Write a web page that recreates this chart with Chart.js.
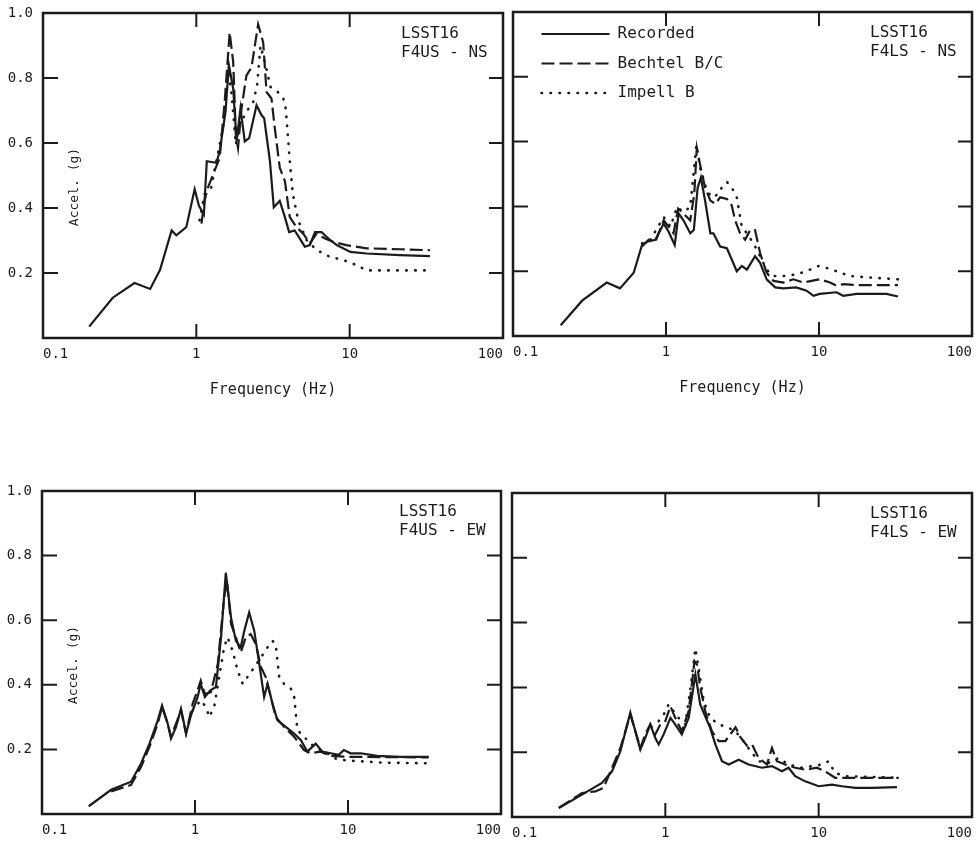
<!DOCTYPE html>
<html>
<head>
<meta charset="utf-8">
<script src="https://cdn.jsdelivr.net/npm/chart.js@4.4.1/dist/chart.umd.min.js"></script>
<style>
  html, body { margin: 0; padding: 0; background: #fff; overflow: hidden; }
  body { width: 977px; height: 842px; position: relative; }
  canvas { position: absolute; }
</style>
</head>
<body>
<canvas id="usNs" width="523" height="410" style="left:0px;top:0px"></canvas>
<canvas id="lsNs" width="522" height="409" style="left:470px;top:-1px"></canvas>
<canvas id="usEw" width="522" height="408" style="left:-1px;top:478px"></canvas>
<canvas id="lsEw" width="523" height="409" style="left:469px;top:480px"></canvas>
<script>
const freqTicks = [0.1, 1, 10, 100];
const freqMarks = [1, 10];
const accelTicks = [0.2, 0.4, 0.6, 0.8, 1.0];
const seriesNames = ['Recorded', 'Bechtel B/C', 'Impell B'];

// [frequency Hz, accel g]
const usNsRecorded = [[0.2,0.035],[0.285,0.124],[0.395,0.169],[0.5,0.151],[0.58,0.21],[0.69,0.331],[0.74,0.316],[0.86,0.341],[0.975,0.458],[1.04,0.407],[1.12,0.38],[1.17,0.544],[1.35,0.539],[1.42,0.574],[1.55,0.696],[1.63,0.84],[1.74,0.767],[1.83,0.605],[1.94,0.706],[2.07,0.605],[2.21,0.615],[2.47,0.716],[2.66,0.686],[2.77,0.676],[3.02,0.544],[3.2,0.402],[3.5,0.422],[3.78,0.372],[4.03,0.326],[4.38,0.331],[4.73,0.306],[5.1,0.281],[5.5,0.286],[5.94,0.326],[6.55,0.326],[7.26,0.306],[8.24,0.286],[10.1,0.265],[12.9,0.26],[21.3,0.255],[33.4,0.252]];
const usNsBechtel = [[1.08,0.352],[1.13,0.422],[1.19,0.463],[1.42,0.554],[1.53,0.726],[1.65,0.94],[1.74,0.848],[1.81,0.625],[1.87,0.585],[1.97,0.706],[2.12,0.807],[2.29,0.833],[2.53,0.965],[2.73,0.909],[2.87,0.757],[3.09,0.737],[3.25,0.645],[3.5,0.524],[3.78,0.483],[4.07,0.372],[4.5,0.341],[4.98,0.321],[5.5,0.291],[6.08,0.321],[6.9,0.306],[7.8,0.296],[9.5,0.286],[12.9,0.276],[21.3,0.273],[33.4,0.27]];
const usNsImpell = [[1.05,0.362],[1.13,0.443],[1.25,0.463],[1.35,0.544],[1.49,0.645],[1.61,0.828],[1.7,0.747],[1.81,0.595],[1.92,0.655],[2.12,0.696],[2.35,0.726],[2.49,0.777],[2.62,0.899],[2.8,0.848],[3.05,0.772],[3.33,0.762],[3.69,0.737],[3.83,0.706],[4.07,0.544],[4.26,0.443],[4.62,0.362],[5.24,0.301],[6.08,0.271],[7.4,0.25],[9.1,0.24],[11.0,0.225],[12.9,0.208],[21.3,0.208],[33.4,0.208]];

const lsNsRecorded = [[0.205,0.033],[0.283,0.109],[0.41,0.165],[0.5,0.147],[0.615,0.195],[0.697,0.281],[0.752,0.291],[0.852,0.297],[0.966,0.347],[1.04,0.322],[1.14,0.281],[1.21,0.378],[1.3,0.357],[1.44,0.317],[1.52,0.327],[1.61,0.458],[1.69,0.489],[1.8,0.418],[1.95,0.317],[2.04,0.317],[2.26,0.276],[2.5,0.271],[2.69,0.236],[2.9,0.2],[3.13,0.216],[3.38,0.205],[3.82,0.246],[4.12,0.226],[4.55,0.175],[5.17,0.15],[5.85,0.147],[7.1,0.15],[8.3,0.14],[9.2,0.124],[10.1,0.13],[13.0,0.135],[14.4,0.124],[17.6,0.13],[27.6,0.13],[32.8,0.122]];
const lsNsBechtel = [[0.697,0.276],[0.77,0.297],[0.852,0.291],[0.966,0.357],[1.04,0.337],[1.12,0.317],[1.2,0.393],[1.3,0.378],[1.44,0.357],[1.53,0.438],[1.59,0.58],[1.67,0.529],[1.8,0.458],[1.95,0.418],[2.1,0.408],[2.26,0.428],[2.5,0.423],[2.69,0.403],[2.83,0.357],[3.05,0.317],[3.29,0.297],[3.55,0.327],[3.82,0.327],[4.12,0.256],[4.55,0.195],[5.04,0.17],[5.85,0.165],[6.8,0.175],[7.9,0.165],[10.1,0.175],[11.8,0.165],[13.0,0.155],[14.4,0.16],[17.6,0.157],[32.8,0.157]];
const lsNsImpell = [[0.697,0.286],[0.79,0.297],[0.966,0.367],[1.07,0.337],[1.18,0.398],[1.3,0.383],[1.44,0.398],[1.58,0.59],[1.67,0.519],[1.85,0.448],[2.0,0.428],[2.2,0.438],[2.38,0.469],[2.52,0.474],[2.69,0.458],[2.9,0.428],[3.13,0.337],[3.38,0.317],[3.73,0.286],[4.12,0.246],[4.55,0.205],[5.04,0.185],[5.85,0.185],[7.1,0.19],[8.3,0.2],[9.9,0.216],[11.2,0.21],[13.0,0.2],[15.9,0.185],[22.6,0.18],[32.8,0.175]];

const usEwRecorded = [[0.202,0.024],[0.283,0.075],[0.382,0.1],[0.445,0.157],[0.504,0.218],[0.571,0.29],[0.609,0.336],[0.663,0.28],[0.697,0.234],[0.752,0.27],[0.81,0.326],[0.874,0.249],[0.942,0.306],[1.04,0.362],[1.09,0.403],[1.16,0.362],[1.26,0.383],[1.37,0.393],[1.48,0.547],[1.59,0.747],[1.72,0.608],[1.85,0.536],[1.99,0.516],[2.1,0.567],[2.26,0.624],[2.44,0.567],[2.63,0.465],[2.83,0.362],[2.98,0.403],[3.21,0.342],[3.46,0.29],[3.92,0.27],[4.45,0.249],[4.91,0.229],[5.42,0.193],[6.15,0.218],[6.8,0.193],[7.7,0.188],[8.7,0.183],[9.4,0.198],[10.4,0.188],[12.1,0.188],[15.5,0.18],[22.0,0.177],[33.7,0.177]];
const usEwBechtel = [[0.283,0.07],[0.382,0.09],[0.445,0.147],[0.504,0.208],[0.571,0.28],[0.609,0.331],[0.663,0.28],[0.697,0.239],[0.81,0.321],[0.874,0.249],[0.966,0.342],[1.04,0.383],[1.09,0.413],[1.16,0.372],[1.27,0.377],[1.41,0.465],[1.55,0.67],[1.62,0.72],[1.72,0.588],[1.85,0.547],[1.99,0.5],[2.15,0.547],[2.31,0.557],[2.5,0.526],[2.7,0.454],[2.9,0.424],[3.13,0.362],[3.37,0.3],[3.82,0.27],[4.45,0.239],[5.16,0.198],[5.7,0.188],[6.6,0.193],[7.7,0.18],[10.4,0.177],[33.7,0.175]];
const usEwImpell = [[0.966,0.321],[1.09,0.352],[1.18,0.331],[1.24,0.3],[1.34,0.336],[1.44,0.424],[1.55,0.516],[1.63,0.547],[1.76,0.506],[1.9,0.444],[2.05,0.403],[2.2,0.424],[2.44,0.454],[2.7,0.485],[2.98,0.516],[3.21,0.536],[3.37,0.526],[3.55,0.424],[3.82,0.403],[4.23,0.388],[4.45,0.362],[4.67,0.26],[5.16,0.239],[6.0,0.208],[7.3,0.188],[8.5,0.169],[10.4,0.165],[17.1,0.159],[33.7,0.157]];

const lsEwRecorded = [[0.202,0.028],[0.286,0.069],[0.386,0.105],[0.449,0.141],[0.509,0.203],[0.591,0.322],[0.637,0.265],[0.687,0.208],[0.74,0.244],[0.798,0.286],[0.86,0.244],[0.905,0.224],[0.975,0.255],[1.08,0.306],[1.16,0.286],[1.28,0.255],[1.42,0.306],[1.57,0.44],[1.69,0.347],[1.82,0.311],[1.96,0.275],[2.12,0.224],[2.34,0.172],[2.59,0.162],[3.01,0.177],[3.49,0.162],[4.27,0.152],[4.96,0.157],[5.76,0.141],[6.36,0.152],[7.03,0.126],[8.17,0.11],[10.0,0.095],[12.2,0.1],[14.2,0.095],[17.4,0.09],[22.3,0.09],[32.4,0.092]];
const lsEwBechtel = [[0.202,0.028],[0.286,0.074],[0.35,0.079],[0.396,0.09],[0.449,0.152],[0.509,0.213],[0.591,0.316],[0.637,0.265],[0.687,0.213],[0.74,0.255],[0.798,0.286],[0.86,0.255],[0.928,0.286],[1.0,0.296],[1.08,0.342],[1.16,0.306],[1.28,0.265],[1.42,0.327],[1.55,0.481],[1.61,0.47],[1.69,0.399],[1.82,0.327],[2.01,0.265],[2.23,0.234],[2.46,0.234],[2.7,0.26],[2.87,0.277],[3.1,0.245],[3.41,0.22],[3.68,0.224],[4.06,0.182],[4.6,0.162],[4.96,0.213],[5.34,0.172],[6.06,0.162],[7.03,0.152],[8.17,0.146],[9.76,0.152],[11.0,0.141],[12.8,0.121],[17.4,0.121],[33.3,0.121]];
const lsEwImpell = [[0.905,0.296],[0.975,0.316],[1.05,0.347],[1.13,0.327],[1.22,0.306],[1.35,0.286],[1.46,0.399],[1.57,0.52],[1.66,0.45],[1.78,0.358],[1.96,0.306],[2.23,0.286],[2.59,0.275],[2.86,0.265],[3.16,0.24],[3.58,0.205],[4.06,0.172],[4.72,0.167],[5.48,0.182],[6.36,0.162],[7.8,0.152],[9.05,0.157],[10.5,0.162],[11.6,0.172],[12.8,0.136],[14.9,0.126],[33.3,0.121]];

const ink = '#1b1b1b';
const mono = '"DejaVu Sans Mono", "Liberation Mono", monospace';
Chart.defaults.font.family = mono;
Chart.defaults.color = ink;

// box, inward tick marks and the text placed inside the plot
const frame = {
  id: 'frame',
  afterLayout(chart) {
    if (chart.options.plugins.legend.display) {
      chart.legend.left += 15;
      chart.legend.top += 13.5;
    }
  },
  afterDatasetsDraw(chart, args, opts) {
    const {ctx, chartArea: a, scales: {x, y}} = chart;
    ctx.save();
    ctx.strokeStyle = ink;
    ctx.lineWidth = 2.5;
    ctx.strokeRect(a.left, a.top, a.width, a.height);
    ctx.lineWidth = 2;
    ctx.beginPath();
    freqMarks.forEach(f => {
      const px = x.getPixelForValue(f);
      ctx.moveTo(px, a.top); ctx.lineTo(px, a.top + 14);
      ctx.moveTo(px, a.bottom); ctx.lineTo(px, a.bottom - 14);
    });
    accelTicks.slice(0, 4).forEach(v => {
      const py = y.getPixelForValue(v);
      ctx.moveTo(a.left, py); ctx.lineTo(a.left + 15, py);
      ctx.moveTo(a.right, py); ctx.lineTo(a.right - 14, py);
    });
    ctx.stroke();
    ctx.fillStyle = ink;
    ctx.font = '16px ' + mono;
    ctx.textBaseline = 'middle';
    opts.tag.forEach((t, i) => ctx.fillText(t, a.right - 102, a.top + 21 + i * 19));
    if (opts.yTitle) {
      ctx.font = '13px ' + mono;
      ctx.translate(a.left + 32, a.top + 174);
      ctx.rotate(-Math.PI / 2);
      ctx.textAlign = 'center';
      ctx.fillText('Accel. (g)', 0, 0);
    }
    ctx.restore();
  }
};

const legendItems = chart => chart.data.datasets.map((d, i) => ({
  text: d.label, datasetIndex: i, hidden: false, fontColor: ink,
  strokeStyle: d.borderColor, fillStyle: 'rgba(0,0,0,0)', lineWidth: d.borderWidth,
  lineDash: d.borderDash || [], lineCap: d.borderCapStyle || 'butt', pointStyle: 'line'
}));

function panel(id, rec, bech, imp, tag, left, top, legend) {
  const pts = d => d.map(p => ({x: p[0], y: p[1]}));
  new Chart(document.getElementById(id), {
    type: 'line',
    data: {
      datasets: [
        {label: seriesNames[0], data: pts(rec), borderColor: ink, borderWidth: 2.2},
        {label: seriesNames[1], data: pts(bech), borderColor: ink, borderWidth: 2.2, borderDash: [13, 5]},
        {label: seriesNames[2], data: pts(imp), borderColor: ink, borderWidth: 2.6, borderDash: [0.5, 8.5], borderCapStyle: 'round'}
      ]
    },
    options: {
      responsive: false,
      animation: false,
      events: [],
      elements: {point: {radius: 0}, line: {tension: 0}},
      layout: {padding: {top: 13, right: 20, bottom: 0, left: 0}},
      scales: {
        x: {
          type: 'logarithmic', min: 0.1, max: 100,
          grid: {display: false, drawTicks: false}, border: {display: false},
          afterBuildTicks: s => { s.ticks = freqTicks.map(v => ({value: v})); },
          afterFit: s => { s.height = 72; s.paddingLeft = 0; s.paddingRight = 0; },
          ticks: {autoSkip: false, maxRotation: 0, align: 'inner', padding: 8, font: {size: 14}, callback: v => String(v)},
          title: {display: top, text: 'Frequency (Hz)', font: {size: 15}, padding: {top: 0, bottom: 11}}
        },
        y: {
          min: 0, max: 1,
          grid: {display: false, drawTicks: false}, border: {display: false},
          afterBuildTicks: s => { s.ticks = accelTicks.map(v => ({value: v})); },
          afterFit: s => { s.width = 43; s.paddingTop = 0; s.paddingBottom = 0; },
          ticks: {display: left, padding: 10, font: {size: 14}, callback: v => v.toFixed(1)}
        }
      },
      plugins: {
        tooltip: {enabled: false},
        legend: {
          display: legend, position: 'chartArea', align: 'start',
          labels: {usePointStyle: true, pointStyleWidth: 68, padding: 13.5, color: ink, font: {size: 16}, generateLabels: legendItems}
        },
        frame: {tag: tag, yTitle: left}
      }
    },
    plugins: [frame]
  });
}

panel('usNs', usNsRecorded, usNsBechtel, usNsImpell, ['LSST16', 'F4US - NS'], true, true, false);
panel('lsNs', lsNsRecorded, lsNsBechtel, lsNsImpell, ['LSST16', 'F4LS - NS'], false, true, true);
panel('usEw', usEwRecorded, usEwBechtel, usEwImpell, ['LSST16', 'F4US - EW'], true, false, false);
panel('lsEw', lsEwRecorded, lsEwBechtel, lsEwImpell, ['LSST16', 'F4LS - EW'], false, false, false);
</script>
</body>
</html>
